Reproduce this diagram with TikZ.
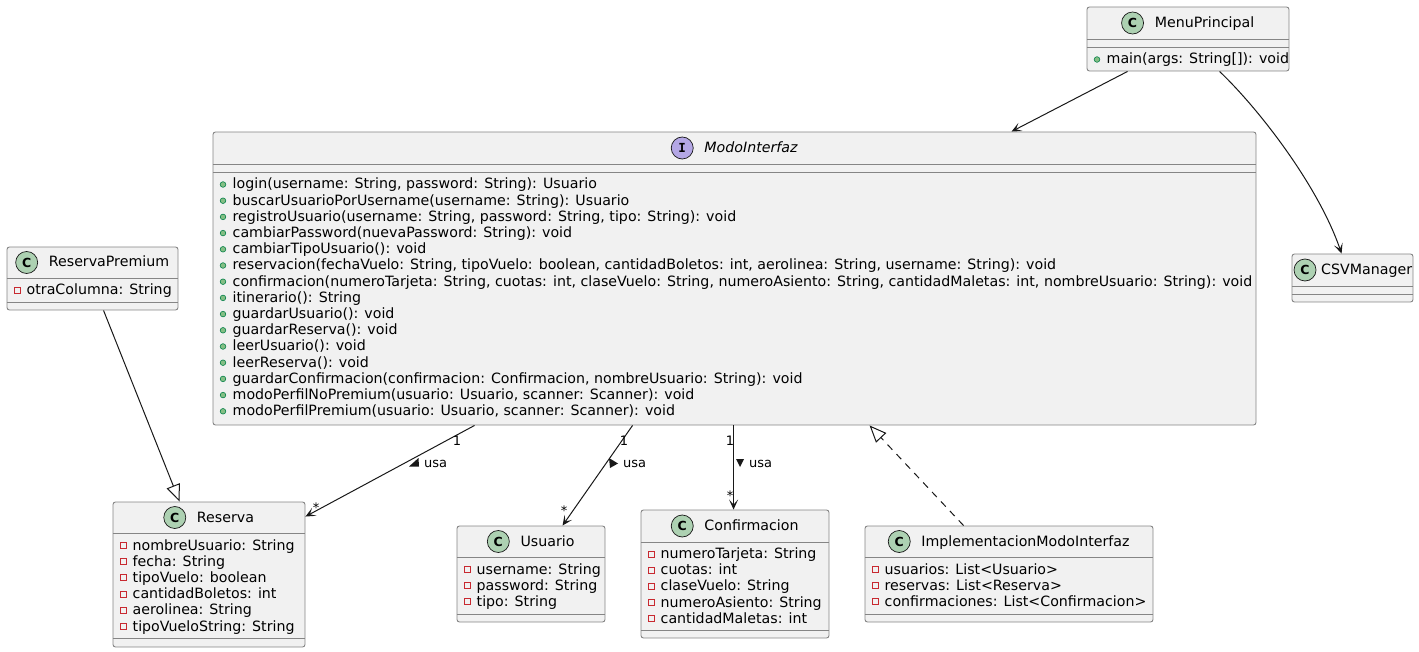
\documentclass[tikz,border=0pt]{standalone}
\usepackage{fontspec}
\setmainfont{DejaVu Sans}
\setmonofont{DejaVu Sans Mono}
\usetikzlibrary{arrows.meta,calc}
\definecolor{boxfill}{HTML}{F1F1F1}
\definecolor{edgec}{HTML}{181818}
\definecolor{boxline}{HTML}{858585}
\definecolor{cfill}{HTML}{ADD1B2}
\definecolor{ifill}{HTML}{B4A7E5}
\definecolor{pubfill}{HTML}{84BE84}
\definecolor{pubdraw}{HTML}{038048}
\definecolor{privdraw}{HTML}{C82930}
\newcommand{\PubRow}[4]{%
  \fill[pubfill,draw=pubdraw,line width=0.6pt] (#2+10,#3-4.5) circle (2.8pt);
  \node[member] (#1) at (#2+19.5,#3) {#4};}
\newcommand{\PrivRow}[4]{%
  \draw[privdraw,line width=0.9pt] (#2+7,#3-7.5) rectangle (#2+13,#3-1.5);
  \node[member] (#1) at (#2+19.5,#3) {#4};}
\newcommand{\SepLine}[2]{\draw[sepline] (#1.west |- 0,#2) -- (#1.east |- 0,#2);}
\newcommand{\ClassHead}[6]{%
  \node[cname] (#1-n) at (#2+16.5,#3+4.5) {#5};
  \node[iconc,fill=#6] (#1-i) at ($(#1-n.base west)+(-22,-4.5)$) {#4};}
\begin{document}
\begin{tikzpicture}[x=1pt,y=-1pt,
  classbox/.style={draw=boxline,line width=0.9pt,fill=boxfill,rounded corners=2.5pt,inner sep=0pt},
  sepline/.style={draw=boxline,line width=0.9pt},
  member/.style={anchor=base west,inner sep=0pt,font=\fontsize{14.2}{16}\selectfont},
  cname/.style={anchor=base,inner sep=0pt,font=\fontsize{14.2}{16}\selectfont},
  iconc/.style={circle,draw=edgec,line width=0.7pt,minimum size=22pt,inner sep=0pt,font=\fontsize{12.5}{12.5}\selectfont\bfseries},
  elabel/.style={anchor=base west,inner sep=0pt,font=\fontsize{13}{15}\selectfont},
  mult/.style={anchor=base,inner sep=0pt,font=\fontsize{13}{15}\selectfont},
  assoc/.style={draw=edgec,line width=1pt,-{Stealth[length=10pt,width=9pt,inset=5pt]}},
  gener/.style={draw=edgec,line width=1pt,-{Triangle[open,length=17pt,width=14pt]}},
  realiz/.style={gener,dash pattern=on 7pt off 6pt}]
\useasboundingbox (0,0) rectangle (1419,652);

% ---------- boxes
\node[classbox,minimum width=202pt,minimum height=64pt] (menu) at (1188,39) {};
\node[classbox,minimum width=121pt,minimum height=48pt] (csv) at (1352.5,278) {};
\node[classbox,minimum width=1043pt,minimum height=293pt] (modo) at (734.5,278.5) {};
\node[classbox,minimum width=171pt,minimum height=63pt] (rp) at (92.5,278.5) {};
\node[classbox,minimum width=192pt,minimum height=145pt] (res) at (209,574.5) {};
\node[classbox,minimum width=148pt,minimum height=96pt] (usu) at (531,574) {};
\node[classbox,minimum width=188pt,minimum height=128pt] (conf) at (735,574) {};
\node[classbox,minimum width=288pt,minimum height=96pt] (impl) at (1009,574) {};

% ---------- separators
\SepLine{menu}{39}\SepLine{menu}{47}
\SepLine{csv}{286}\SepLine{csv}{294}
\SepLine{modo}{164}\SepLine{modo}{172}
\SepLine{rp}{278}\SepLine{rp}{302}
\SepLine{res}{533}\SepLine{res}{638}
\SepLine{usu}{557}\SepLine{usu}{614}
\SepLine{conf}{542}\SepLine{conf}{630}
\SepLine{impl}{557}\SepLine{impl}{614}

% ---------- headers
\ClassHead{menu}{1188}{23}{C}{MenuPrincipal}{cfill}
\node[iconc,fill=cfill] (csv-i) at (1305,270) {C};
\node[member] (csv-n) at (1321,274.5) {CSVManager};
\ClassHead{modo}{734.5}{148}{\ttfamily\bfseries I}{\itshape ModoInterfaz}{ifill}
\ClassHead{rp}{92.5}{262.5}{C}{ReservaPremium}{cfill}
\ClassHead{res}{209}{517.5}{C}{Reserva}{cfill}
\ClassHead{usu}{531}{541.5}{C}{Usuario}{cfill}
\ClassHead{conf}{735}{526}{C}{Confirmacion}{cfill}
\ClassHead{impl}{1009}{541.5}{C}{ImplementacionModoInterfaz}{cfill}

% ---------- members
\PubRow{menu-m0}{1087}{64}{main(args: String[]): void}
\foreach \t [count=\i from 0] in {
  {login(username: String, password: String): Usuario},
  {buscarUsuarioPorUsername(username: String): Usuario},
  {registroUsuario(username: String, password: String, tipo: String): void},
  {cambiarPassword(nuevaPassword: String): void},
  {cambiarTipoUsuario(): void},
  {reservacion(fechaVuelo: String, tipoVuelo: boolean, cantidadBoletos: int, aerolinea: String, username: String): void},
  {confirmacion(numeroTarjeta: String, cuotas: int, claseVuelo: String, numeroAsiento: String, cantidadMaletas: int, nombreUsuario: String): void},
  {itinerario(): String},
  {guardarUsuario(): void},
  {guardarReserva(): void},
  {leerUsuario(): void},
  {leerReserva(): void},
  {guardarConfirmacion(confirmacion: Confirmacion, nombreUsuario: String): void},
  {modoPerfilNoPremium(usuario: Usuario, scanner: Scanner): void},
  {modoPerfilPremium(usuario: Usuario, scanner: Scanner): void}}
  {\PubRow{modo-m\i}{213}{189+16.2*\i}{\t}}
\PrivRow{rp-m0}{7}{295}{otraColumna: String}
\foreach \t [count=\i from 0] in {
  {nombreUsuario: String},{fecha: String},{tipoVuelo: boolean},
  {cantidadBoletos: int},{aerolinea: String},{tipoVueloString: String}}
  {\PrivRow{res-m\i}{113}{550+16.2*\i}{\t}}
\foreach \t [count=\i from 0] in {
  {username: String},{password: String},{tipo: String}}
  {\PrivRow{usu-m\i}{457}{574+16.2*\i}{\t}}
\foreach \t [count=\i from 0] in {
  {numeroTarjeta: String},{cuotas: int},{claseVuelo: String},
  {numeroAsiento: String},{cantidadMaletas: int}}
  {\PrivRow{conf-m\i}{641}{558.5+16.2*\i}{\t}}
\foreach \t [count=\i from 0] in {
  {usuarios: List<Usuario>},{reservas: List<Reserva>},{confirmaciones: List<Confirmacion>}}
  {\PrivRow{impl-m\i}{865}{574+16.2*\i}{\t}}

% ---------- connectors
\draw[assoc] ([xshift=41pt]menu.south west) -- ([xshift=799pt]modo.north west);
\draw[assoc] ([xshift=133pt]menu.south west) .. controls (1258,108) and (1318,185) .. ([xshift=50pt]csv.north west);
\draw[assoc] ([xshift=262pt]modo.south west) -- ([yshift=-15pt]res.north east);
\draw[assoc] ([xshift=420pt]modo.south west) -- ([xshift=106pt]usu.north west);
\draw[assoc] ([xshift=521pt]modo.south west) -- ([xshift=93pt]conf.north west);
\draw[gener] ([xshift=97pt]rp.south west) -- ([xshift=67pt]res.north west);
\draw[realiz] ([xshift=99pt]impl.north west) -- ([xshift=657pt]modo.south west);

% ---------- connector labels
\node[mult] (m1a) at (457,445) {1};
\node[mult] (m1b) at (316,512) {*};
\node[mult] (m2a) at (624,445) {1};
\node[mult] (m2b) at (564,515) {*};
\node[mult] (m3a) at (730,445) {1};
\node[mult] (m3b) at (730,500) {*};
\node[elabel] (u1) at (424,467) {usa};
\node[elabel] (u2) at (623,467) {usa};
\node[elabel] (u3) at (749,467) {usa};
\fill[edgec] (409,466.5) -- (419,466.5) -- (418.5,458) -- cycle;
\fill[edgec] (609,458) -- (618,463.5) -- (610,468) -- cycle;
\fill[edgec] (736,459) -- (744,459) -- (740,467) -- cycle;
\end{tikzpicture}
\end{document}
